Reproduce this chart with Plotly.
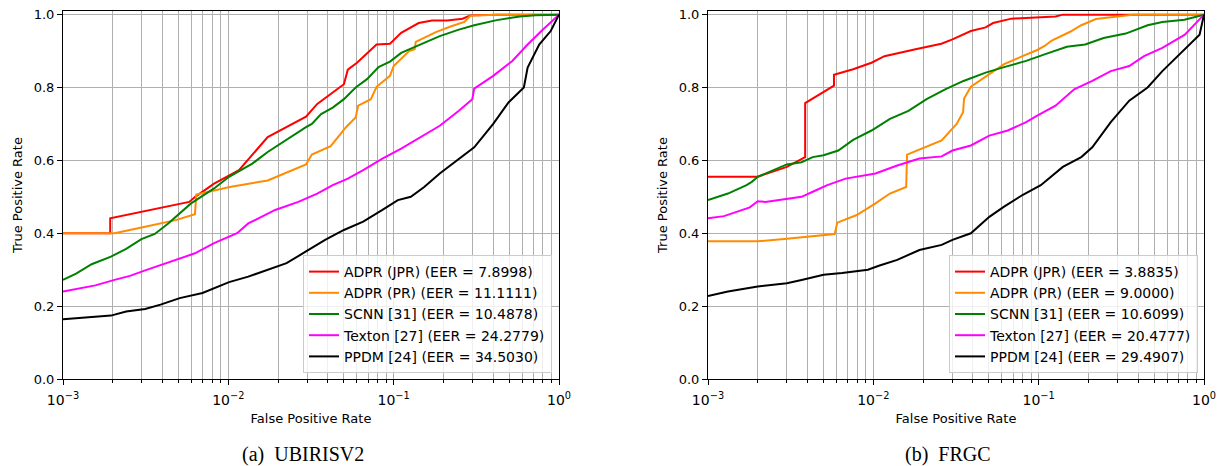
import plotly.graph_objects as go

# ---------------- data: (a) UBIRISV2 ----------------
a_jpr_fpr = [0.001, 0.00193, 0.00193, 0.0058, 0.0063, 0.0082, 0.0116, 0.0173, 0.0295, 0.0345, 0.050, 0.0528, 0.060, 0.0788, 0.095, 0.111, 0.1416, 0.1706, 0.211, 0.261, 0.291, 0.42, 1.0]
a_jpr_tpr = [0.40, 0.40, 0.441, 0.486, 0.50, 0.536, 0.573, 0.664, 0.72, 0.755, 0.809, 0.849, 0.868, 0.918, 0.92, 0.95, 0.977, 0.984, 0.984, 0.989, 0.998, 1.0, 1.0]

a_pr_fpr = [0.001, 0.00205, 0.00314, 0.0048, 0.00628, 0.0064, 0.0102, 0.0173, 0.0295, 0.032, 0.0416, 0.0515, 0.0589, 0.061, 0.0728, 0.0788, 0.095, 0.100, 0.124, 0.134, 0.136, 0.18, 0.223, 0.268, 0.291, 0.42, 1.0]
a_pr_tpr = [0.40, 0.40, 0.418, 0.436, 0.452, 0.506, 0.527, 0.545, 0.589, 0.616, 0.639, 0.691, 0.718, 0.75, 0.768, 0.802, 0.832, 0.859, 0.90, 0.905, 0.925, 0.952, 0.968, 0.98, 0.997, 1.0, 1.0]

a_scnn_fpr = [0.001, 0.0012, 0.00149, 0.00195, 0.00241, 0.00298, 0.00359, 0.00433, 0.00595, 0.0082, 0.0101, 0.01396, 0.0173, 0.0238, 0.0295, 0.032, 0.0364, 0.0428, 0.050, 0.0589, 0.069, 0.081, 0.095, 0.111, 0.146, 0.19, 0.248, 0.307, 0.42, 0.58, 0.72, 1.0]
a_scnn_tpr = [0.272, 0.289, 0.315, 0.336, 0.357, 0.384, 0.398, 0.427, 0.482, 0.523, 0.555, 0.591, 0.623, 0.665, 0.691, 0.70, 0.727, 0.745, 0.768, 0.80, 0.823, 0.856, 0.871, 0.895, 0.918, 0.941, 0.959, 0.971, 0.985, 0.995, 0.998, 1.0]

a_tex_fpr = [0.001, 0.00157, 0.00205, 0.00254, 0.00314, 0.00389, 0.00508, 0.00628, 0.0082, 0.0113, 0.0132, 0.0192, 0.0265, 0.0345, 0.0428, 0.0528, 0.0654, 0.0855, 0.111, 0.146, 0.19, 0.248, 0.299, 0.307, 0.40, 0.522, 0.646, 0.80, 1.0]
a_tex_tpr = [0.240, 0.257, 0.272, 0.283, 0.298, 0.313, 0.332, 0.345, 0.373, 0.40, 0.427, 0.464, 0.486, 0.509, 0.532, 0.55, 0.573, 0.605, 0.632, 0.664, 0.695, 0.736, 0.768, 0.797, 0.832, 0.873, 0.918, 0.959, 1.0]

a_ppdm_fpr = [0.001, 0.00141, 0.00195, 0.00241, 0.00314, 0.00389, 0.00508, 0.00698, 0.0082, 0.0101, 0.0132, 0.0173, 0.0225, 0.0295, 0.0385, 0.050, 0.0654, 0.0855, 0.106, 0.127, 0.153, 0.19, 0.248, 0.307, 0.40, 0.495, 0.613, 0.646, 0.759, 0.891, 1.0]
a_ppdm_tpr = [0.164, 0.169, 0.174, 0.185, 0.192, 0.204, 0.222, 0.236, 0.249, 0.266, 0.281, 0.30, 0.318, 0.35, 0.382, 0.409, 0.432, 0.464, 0.491, 0.50, 0.527, 0.564, 0.605, 0.636, 0.70, 0.759, 0.80, 0.855, 0.918, 0.955, 1.0]

# ---------------- data: (b) FRGC ----------------
b_jpr_fpr = [0.001, 0.00199, 0.0030, 0.00387, 0.00387, 0.00578, 0.00578, 0.00755, 0.00975, 0.01167, 0.018, 0.0258, 0.0301, 0.0389, 0.0478, 0.053, 0.0684, 0.098, 0.1265, 0.140, 1.0]
b_jpr_tpr = [0.555, 0.555, 0.582, 0.609, 0.757, 0.805, 0.835, 0.85, 0.868, 0.886, 0.905, 0.92, 0.932, 0.955, 0.965, 0.977, 0.989, 0.993, 0.995, 1.0, 1.0]

b_pr_fpr = [0.001, 0.002, 0.0030, 0.00584, 0.00605, 0.00794, 0.0103, 0.0126, 0.0158, 0.0160, 0.0259, 0.0319, 0.0349, 0.0354, 0.0389, 0.0503, 0.0618, 0.0798, 0.098, 0.1086, 0.120, 0.155, 0.181, 0.222, 0.303, 0.37, 1.0]
b_pr_tpr = [0.378, 0.378, 0.385, 0.398, 0.429, 0.45, 0.482, 0.509, 0.527, 0.616, 0.655, 0.70, 0.732, 0.77, 0.802, 0.836, 0.864, 0.886, 0.903, 0.914, 0.929, 0.953, 0.971, 0.988, 0.995, 1.0, 1.0]

b_scnn_fpr = [0.001, 0.00132, 0.00171, 0.00184, 0.002, 0.00244, 0.0030, 0.00368, 0.0043, 0.0050, 0.00614, 0.00755, 0.00975, 0.0126, 0.0163, 0.021, 0.0272, 0.0351, 0.0478, 0.0618, 0.084, 0.1086, 0.148, 0.191, 0.247, 0.336, 0.456, 0.56, 0.762, 1.0]
b_scnn_tpr = [0.491, 0.509, 0.532, 0.541, 0.555, 0.571, 0.589, 0.595, 0.609, 0.614, 0.627, 0.656, 0.682, 0.714, 0.736, 0.768, 0.795, 0.818, 0.841, 0.856, 0.873, 0.891, 0.912, 0.918, 0.936, 0.948, 0.971, 0.98, 0.986, 1.0]

b_tex_fpr = [0.001, 0.00125, 0.00179, 0.002, 0.00222, 0.0030, 0.00368, 0.0043, 0.00527, 0.0068, 0.0103, 0.01395, 0.019, 0.0259, 0.0301, 0.0389, 0.0503, 0.065, 0.084, 0.098, 0.1265, 0.164, 0.211, 0.273, 0.353, 0.434, 0.56, 0.766, 0.892, 1.0]
b_tex_tpr = [0.441, 0.447, 0.471, 0.488, 0.486, 0.495, 0.50, 0.514, 0.532, 0.55, 0.564, 0.586, 0.605, 0.611, 0.627, 0.641, 0.668, 0.682, 0.705, 0.723, 0.75, 0.795, 0.818, 0.845, 0.859, 0.886, 0.909, 0.945, 0.977, 1.0]

b_ppdm_fpr = [0.001, 0.00132, 0.002, 0.0030, 0.00368, 0.0050, 0.00647, 0.00927, 0.0108, 0.01395, 0.019, 0.0259, 0.0301, 0.0389, 0.0503, 0.0618, 0.0798, 0.103, 0.140, 0.181, 0.211, 0.273, 0.353, 0.456, 0.56, 0.766, 0.94, 1.0]
b_ppdm_tpr = [0.228, 0.24, 0.254, 0.263, 0.272, 0.286, 0.291, 0.30, 0.311, 0.327, 0.354, 0.368, 0.382, 0.40, 0.445, 0.473, 0.505, 0.532, 0.582, 0.609, 0.636, 0.705, 0.764, 0.80, 0.845, 0.905, 0.945, 1.0]

names_a = ["ADPR (JPR) (EER = 7.8998)", "ADPR (PR) (EER = 11.1111)", "SCNN [31] (EER = 10.4878)",
           "Texton [27] (EER = 24.2779)", "PPDM [24] (EER = 34.5030)"]
names_b = ["ADPR (JPR) (EER = 3.8835)", "ADPR (PR) (EER = 9.0000)", "SCNN [31] (EER = 10.6099)",
           "Texton [27] (EER = 20.4777)", "PPDM [24] (EER = 29.4907)"]
colors = ["#ff0000", "#ff8c00", "#008000", "#ff00ff", "#000000"]

x_tickvals = [0.001, 0.01, 0.1, 1]
x_ticktext = ["10<sup>−3</sup>", "10<sup>−2</sup>", "10<sup>−1</sup>", "10<sup>0</sup>"]
y_tickvals = [0.0, 0.2, 0.4, 0.6, 0.8, 1.0]

minor_vals = [m * 10 ** e for e in (-3, -2, -1) for m in range(2, 10)]

series_a = [(a_jpr_fpr, a_jpr_tpr), (a_pr_fpr, a_pr_tpr), (a_scnn_fpr, a_scnn_tpr),
            (a_tex_fpr, a_tex_tpr), (a_ppdm_fpr, a_ppdm_tpr)]
series_b = [(b_jpr_fpr, b_jpr_tpr), (b_pr_fpr, b_pr_tpr), (b_scnn_fpr, b_scnn_tpr),
            (b_tex_fpr, b_tex_tpr), (b_ppdm_fpr, b_ppdm_tpr)]

fig = go.Figure()
for (xs, ys), nm, c in zip(series_a, names_a, colors):
    fig.add_trace(go.Scatter(x=xs, y=ys, mode="lines", name=nm, line=dict(color=c, width=2),
                             xaxis="x", yaxis="y", legend="legend"))
for (xs, ys), nm, c in zip(series_b, names_b, colors):
    fig.add_trace(go.Scatter(x=xs, y=ys, mode="lines", name=nm, line=dict(color=c, width=2),
                             xaxis="x2", yaxis="y2", legend="legend2"))

W, H = 1217, 466
fx = lambda p: p / W
fy = lambda p: 1 - p / H

font = dict(family="DejaVu Sans", size=13, color="black")
grid = "#b0b0b0"

def xaxis(dom, anchor):
    return dict(type="log", range=[-3, 0], domain=dom, anchor=anchor,
                tickvals=x_tickvals, ticktext=x_ticktext, ticks="outside", ticklen=5,
                tickcolor="black", showgrid=True, gridcolor=grid, gridwidth=0.8,
                showline=True, linecolor="black", linewidth=1, mirror=True, zeroline=False,
                minor=dict(tickvals=minor_vals, ticks="outside", ticklen=3, tickcolor="black",
                           showgrid=True, gridcolor=grid, gridwidth=0.8),
                ticklabelstandoff=3,
                title=dict(text="False Positive Rate", font=font, standoff=7),
                tickfont=dict(family="DejaVu Sans", size=14, color="black"), automargin=False)

def yaxis(dom, anchor):
    return dict(range=[0, 1.01], domain=dom, anchor=anchor, tickvals=y_tickvals,
                tickformat=".1f", ticks="outside", ticklen=5, tickcolor="black",
                showgrid=True, gridcolor=grid, gridwidth=0.8, showline=True,
                linecolor="black", linewidth=1, mirror=True, zeroline=False,
                title=dict(text="True Positive Rate", font=font, standoff=8),
                tickfont=font, automargin=False)

ydom = [fy(379), fy(11)]
legend_common = dict(bgcolor="rgba(255,255,255,0.8)", bordercolor="#cccccc", borderwidth=1,
                     font=dict(family="DejaVu Sans", size=14, color="black"),
                     xanchor="right", yanchor="bottom", tracegroupgap=0, itemwidth=30)

fig.update_layout(
    width=W, height=H, margin=dict(l=0, r=0, t=0, b=0),
    paper_bgcolor="white", plot_bgcolor="white", font=font,
    xaxis=xaxis([fx(63), fx(559)], "y"),
    yaxis=yaxis(ydom, "x"),
    xaxis2=xaxis([fx(708), fx(1204)], "y2"),
    yaxis2=yaxis(ydom, "x2"),
    legend=dict(x=fx(552), y=fy(373), **legend_common),
    legend2=dict(x=fx(1198), y=fy(373), **legend_common),
    annotations=[
        dict(text="(a)  UBIRISV2", x=fx(303), y=fy(454), xref="paper", yref="paper",
             showarrow=False, font=dict(family="Liberation Serif", size=20, color="black"),
             xanchor="center", yanchor="middle"),
        dict(text="(b)  FRGC", x=fx(948), y=fy(454), xref="paper", yref="paper",
             showarrow=False, font=dict(family="Liberation Serif", size=20, color="black"),
             xanchor="center", yanchor="middle"),
    ],
)

fig.write_html("out.html", config={"displayModeBar": False},
               post_script="document.body.style.margin='0px';document.body.style.overflow='hidden';")
